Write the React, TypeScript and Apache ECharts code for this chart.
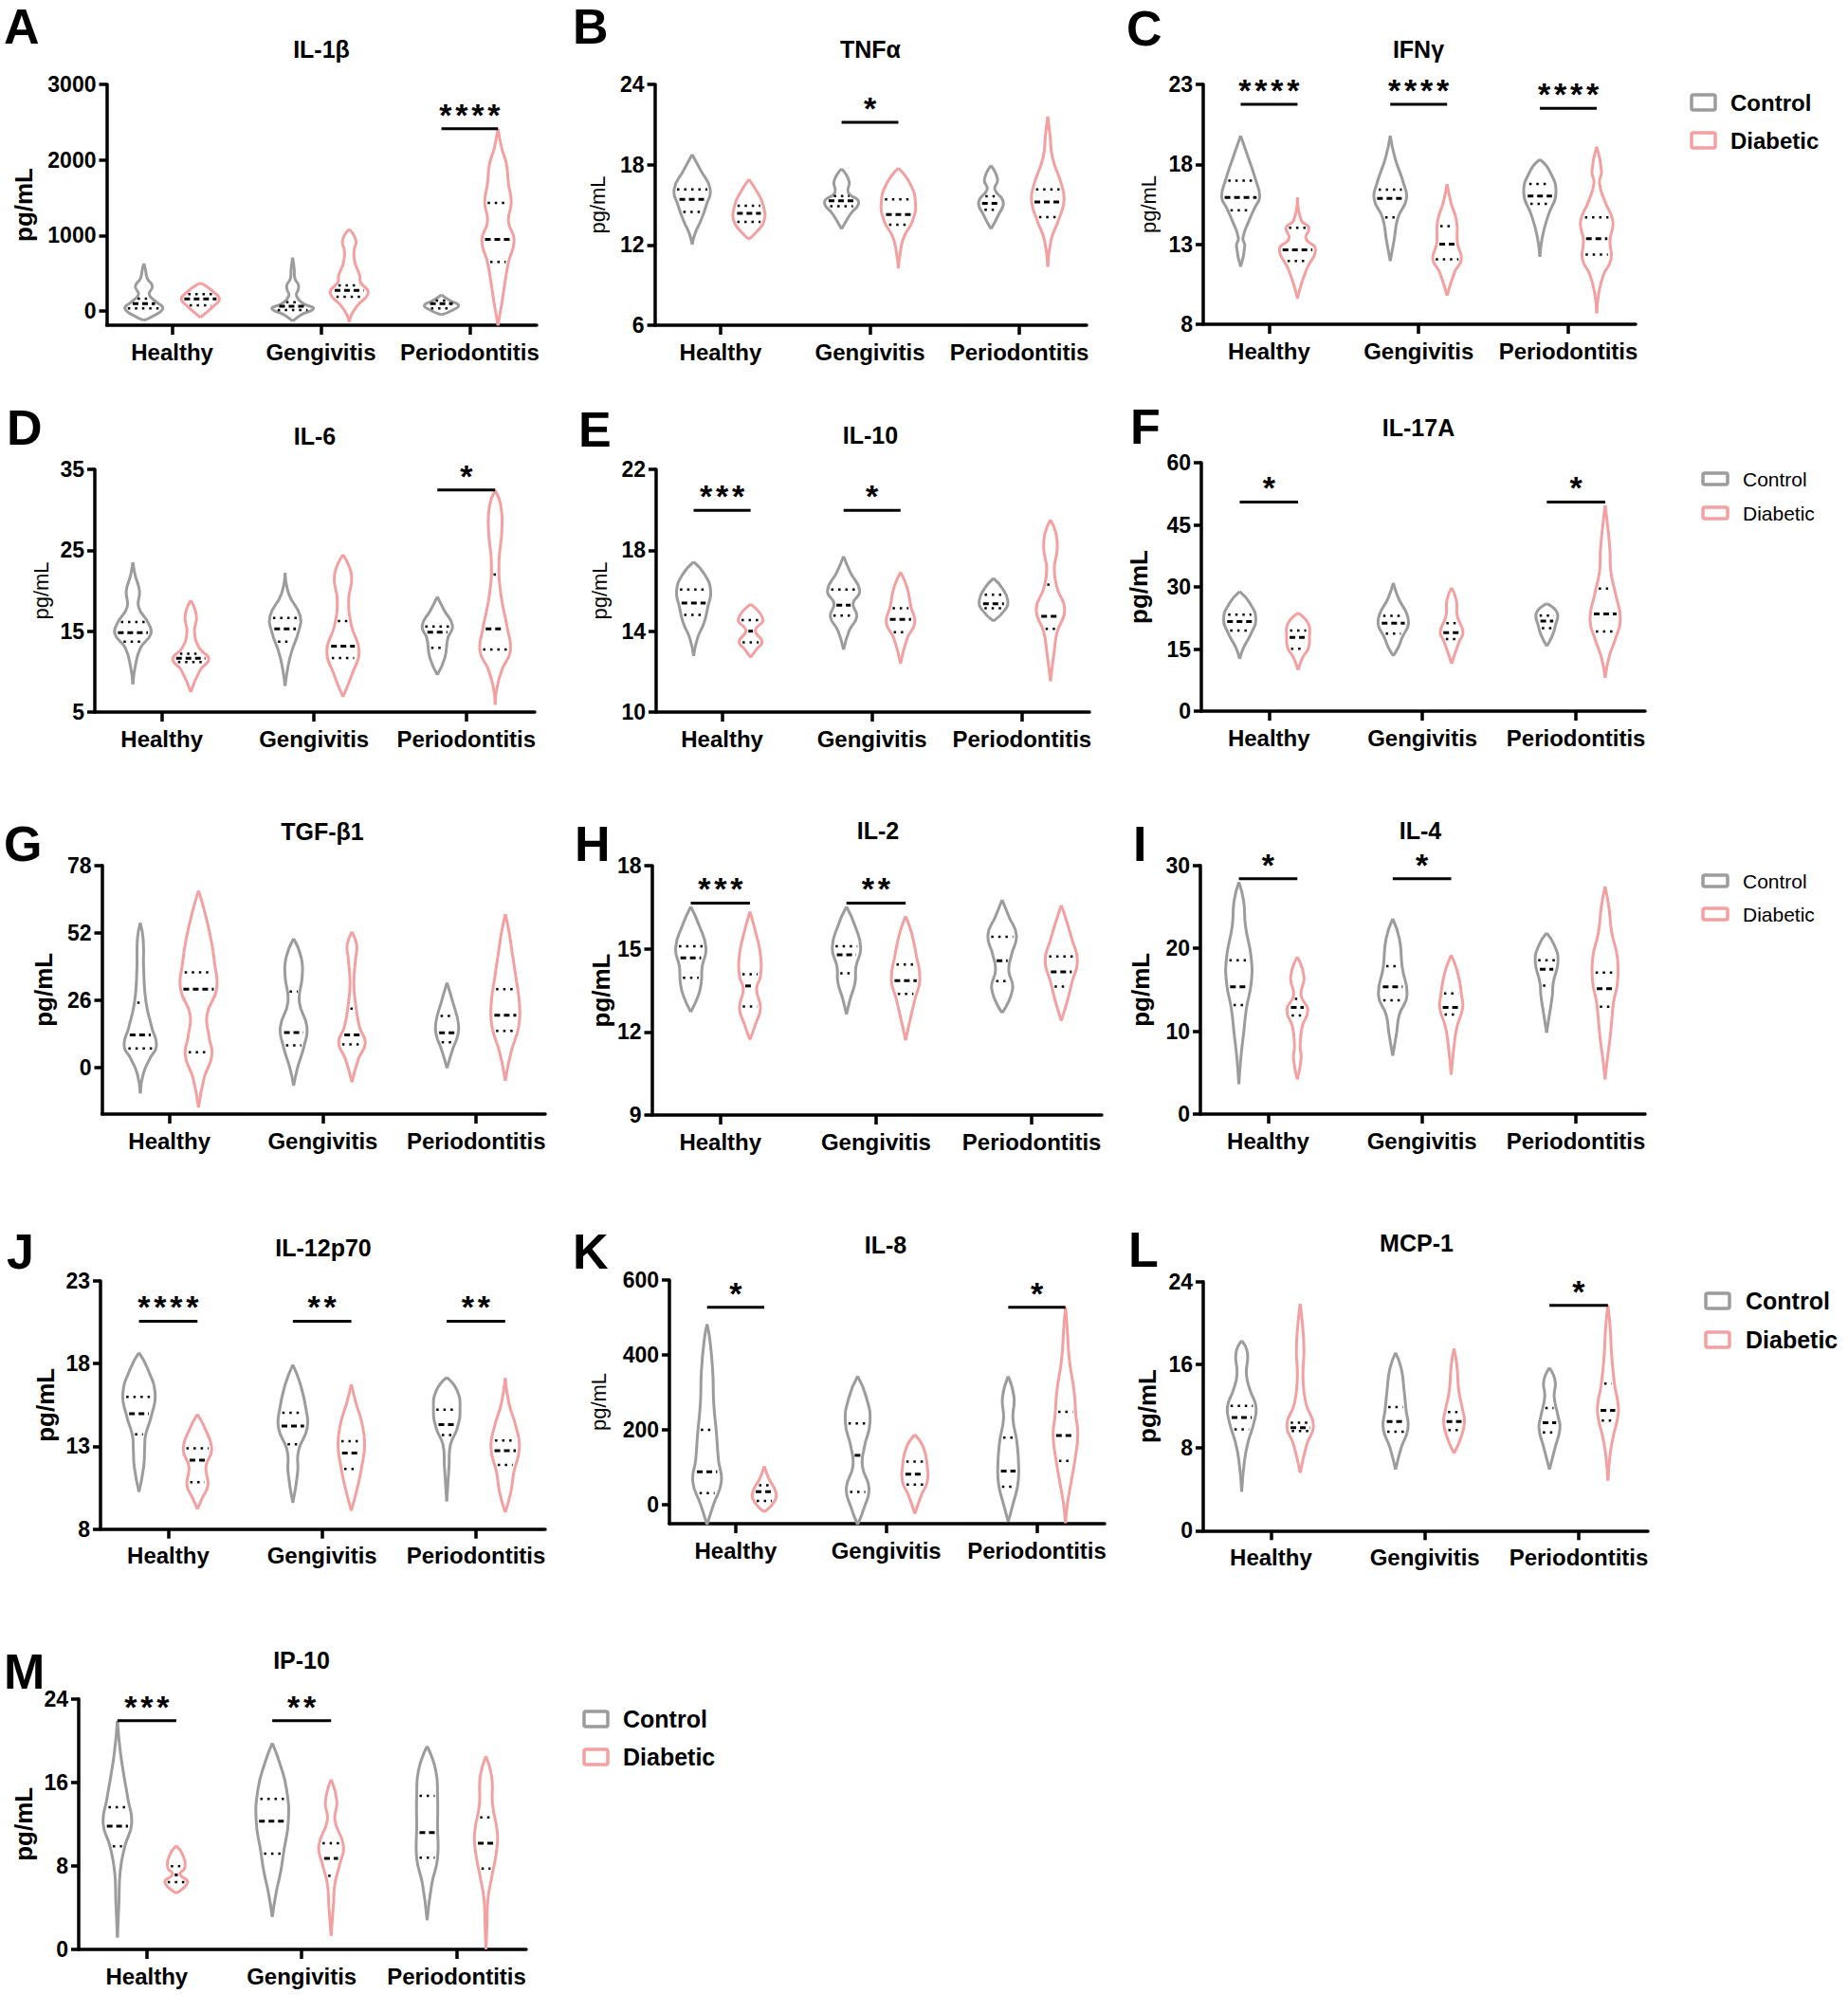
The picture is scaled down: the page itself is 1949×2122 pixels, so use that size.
import React, { useEffect, useRef } from "react";
import * as echarts from "echarts";

// ---------- shared categories & style constants ----------
const CATEGORIES = ["Healthy", "Gengivitis", "Periodontitis"];
const GROUPS = ["Control", "Diabetic"];
const GREY = "#9c9c9c";
const PINK = "#f5a0a0";
const FONT = '"Liberation Sans", Arial, Helvetica, sans-serif';
const HW = 20; // px half-width of a violin at relative density 1
const OFFSET = 0.19; // group offset within a category
const X_MIN = -0.44;
const X_MAX = 2.45;
const AXIS_W = 3.5;

// Violin order in every panel: Healthy-Control, Healthy-Diabetic, Gengivitis-Control,
// Gengivitis-Diabetic, Periodontitis-Control, Periodontitis-Diabetic
// STATS = [q1, median, q3]; SHAPES = [[value, relative half-width], ...] low -> high
// SIG = [category index, bar value, number of stars]

// A  IL-1β
const IL1B_TICKS = [0, 1000, 2000, 3000];
const IL1B_STATS = [[35, 97, 165], [76, 159, 222], [13, 63, 117], [190, 273, 340], [34, 97, 138], [650, 948, 1431]];
const IL1B_SHAPES = [
  [[-122, 0], [-71, 0.45], [34, 1.0], [130, 0.6], [222, 0.28], [327, 0.45], [432, 0.18], [550, 0.08], [629, 0]],
  [[-84, 0], [-8, 0.37], [55, 0.65], [159, 1.0], [250, 0.7], [330, 0.3], [369, 0]],
  [[-134, 0], [-50, 0.45], [34, 1.1], [100, 0.55], [201, 0.2], [290, 0.3], [348, 0.3], [430, 0.12], [558, 0.08], [705, 0]],
  [[-147, 0], [-50, 0.12], [76, 0.45], [243, 1.0], [380, 0.6], [474, 0.55], [642, 0.3], [789, 0.25], [936, 0.35], [1083, 0]],
  [[-50, 0], [13, 0.6], [76, 0.9], [138, 0.45], [214, 0]],
  [[-190, 0], [-71, 0.08], [97, 0.2], [348, 0.35], [642, 0.55], [936, 0.85], [1187, 0.55], [1439, 0.7], [1691, 0.55], [1943, 0.45], [2153, 0.2], [2413, 0]],
];
const IL1B_SIG = [[2, 2414, 4]];

// B  TNFα
const TNF_TICKS = [6, 12, 18, 24];
const TNF_STATS = [[14.46, 15.4, 16.16], [13.73, 14.36, 14.93], [14.9, 15.3, 15.65], [13.51, 14.27, 15.4], [14.62, 15.1, 15.64], [14.08, 15.21, 16.16]];
const TNF_SHAPES = [
  [[12.02, 0], [12.85, 0.15], [13.8, 0.45], [14.98, 0.75], [16.16, 0.95], [17.58, 0.45], [18.76, 0]],
  [[12.43, 0], [12.97, 0.4], [13.8, 0.8], [14.98, 0.75], [15.92, 0.45], [16.91, 0]],
  [[13.2, 0], [14.27, 0.45], [15.21, 0.9], [15.92, 0.35], [16.75, 0.4], [17.69, 0]],
  [[10.25, 0], [11.43, 0.1], [12.62, 0.3], [13.8, 0.75], [15.21, 0.9], [16.63, 0.6], [17.74, 0]],
  [[13.2, 0], [14.27, 0.4], [15.21, 0.65], [16.16, 0.2], [16.87, 0.35], [17.93, 0]],
  [[10.37, 0], [12.38, 0.18], [13.8, 0.55], [15.21, 0.85], [16.4, 0.75], [18.52, 0.25], [20.2, 0.12], [21.6, 0]],
];
const TNF_SIG = [[1, 21.16, 1]];

// C  IFNγ
const IFNG_TICKS = [8, 13, 18, 23];
const IFNG_STATS = [[15.13, 15.93, 16.98], [11.96, 12.66, 14.04], [14.68, 15.87, 16.42], [12.06, 13.01, 14.14], [15.53, 16.02, 16.78], [12.36, 13.35, 14.68]];
const IFNG_SHAPES = [
  [[11.6, 0], [12.9, 0.22], [13.4, 0.12], [14.5, 0.45], [15.3, 0.75], [15.95, 1.0], [17.0, 0.8], [18.6, 0.35], [19.79, 0]],
  [[9.6, 0], [10.5, 0.2], [11.5, 0.5], [12.7, 0.95], [13.35, 0.45], [14.05, 0.6], [14.5, 0.2], [15.95, 0]],
  [[11.96, 0], [13.25, 0.2], [14.64, 0.4], [15.83, 0.85], [16.82, 0.7], [18.4, 0.25], [19.79, 0]],
  [[9.78, 0], [11.27, 0.4], [12.06, 0.75], [13.05, 0.55], [14.44, 0.5], [15.63, 0.2], [16.78, 0]],
  [[12.22, 0], [13.55, 0.15], [14.84, 0.45], [16.22, 0.85], [17.61, 0.5], [18.3, 0]],
  [[8.69, 0], [9.88, 0.1], [11.07, 0.35], [12.06, 0.75], [13.25, 0.7], [14.44, 0.85], [15.63, 0.45], [16.8, 0.15], [17.6, 0.25], [19.1, 0]],
];
const IFNG_SIG = [[0, 21.76, 4], [1, 21.76, 4], [2, 21.5, 4]];

// D  IL-6
const IL6_TICKS = [5, 15, 25, 35];
const IL6_STATS = [[13.71, 14.8, 16.13], [11.17, 11.64, 12.2], [13.71, 15.27, 16.64], [11.68, 13.13, 16.25], [12.93, 14.88, 15.59], [12.73, 15.27, 22]];
const IL6_SHAPES = [
  [[8.44, 0], [10.59, 0.12], [12.93, 0.4], [14.69, 0.95], [16.05, 0.8], [18.0, 0.3], [19.96, 0.35], [21.91, 0.12], [23.48, 0]],
  [[7.46, 0], [10.2, 0.5], [11.56, 0.95], [12.93, 0.45], [14.88, 0.2], [16.84, 0.3], [18.79, 0]],
  [[8.24, 0], [10.59, 0.15], [12.54, 0.35], [14.88, 0.7], [16.84, 0.8], [19.57, 0.2], [22.19, 0]],
  [[6.88, 0], [9.81, 0.5], [12.54, 0.85], [15.66, 0.45], [18.79, 0.3], [21.91, 0.45], [24.45, 0]],
  [[9.61, 0], [11.76, 0.4], [14.1, 0.55], [15.66, 0.8], [17.62, 0.35], [19.26, 0]],
  [[5.9, 0], [7.85, 0.08], [10.2, 0.35], [12.54, 0.8], [15.27, 0.65], [19.57, 0.3], [23.48, 0.2], [27.38, 0.35], [30.5, 0.3], [32.38, 0]],
];
const IL6_SIG = [[2, 32.46, 1]];

// E  IL-10
const IL10_TICKS = [10, 14, 18, 22];
const IL10_STATS = [[14.81, 15.39, 16.06], [13.45, 14.0, 14.55], [14.77, 15.28, 16.06], [13.95, 14.58, 15.13], [15.13, 15.36, 15.8], [14.11, 14.73, 16.3]];
const IL10_SHAPES = [
  [[12.78, 0], [13.64, 0.2], [14.42, 0.55], [15.2, 0.75], [15.98, 0.9], [16.77, 0.6], [17.42, 0]],
  [[12.7, 0], [13.09, 0.3], [13.48, 0.6], [14.03, 0.25], [14.58, 0.65], [15.33, 0]],
  [[13.09, 0], [14.03, 0.3], [14.73, 0.7], [15.36, 0.5], [15.98, 0.85], [16.92, 0.35], [17.7, 0]],
  [[12.39, 0], [13.64, 0.35], [14.42, 0.75], [15.2, 0.55], [16.14, 0.35], [16.92, 0]],
  [[14.5, 0], [15.05, 0.6], [15.52, 0.75], [16.14, 0.45], [16.61, 0]],
  [[11.53, 0], [13.02, 0.2], [13.95, 0.35], [15.05, 0.75], [16.14, 0.35], [17.08, 0.2], [18.02, 0.35], [18.8, 0.3], [19.5, 0]],
];
const IL10_SIG = [[0, 19.97, 3], [1, 19.97, 1]];

// F  IL-17A
const IL17_TICKS = [0, 15, 30, 45, 60];
const IL17_STATS = [[19.49, 21.63, 23.31], [15.06, 17.81, 19.49], [18.73, 21.25, 23.0], [17.43, 18.96, 21.25], [20.03, 21.78, 23.08], [19.26, 23.47, 29.58]];
const IL17_SHAPES = [
  [[12.61, 0], [15.29, 0.2], [18.73, 0.6], [22.17, 0.85], [25.99, 0.55], [28.9, 0]],
  [[9.94, 0], [13.0, 0.25], [15.29, 0.55], [17.96, 0.6], [21.02, 0.55], [23.7, 0]],
  [[13.38, 0], [15.29, 0.25], [17.58, 0.45], [21.78, 0.8], [27.52, 0.25], [30.96, 0]],
  [[11.47, 0], [16.82, 0.4], [19.11, 0.6], [22.93, 0.3], [26.75, 0.25], [29.8, 0]],
  [[15.67, 0], [18.35, 0.3], [20.64, 0.45], [23.7, 0.55], [25.99, 0]],
  [[8.03, 0], [12.99, 0.2], [17.58, 0.55], [22.17, 0.8], [28.28, 0.55], [33.63, 0.3], [38.98, 0.25], [45.1, 0.12], [49.68, 0]],
];
const IL17_SIG = [[0, 50.5, 1], [2, 50.5, 1]];

// G  TGF-β1
const TGF_TICKS = [0, 26, 52, 78];
const TGF_STATS = [[7.3, 12.55, 25], [5.85, 30.2, 36.7], [8.5, 13.5, 29.3], [8.9, 12.55, 22.7], [9.75, 13.4, 19.9], [14.1, 20.2, 30.2]];
const TGF_SHAPES = [
  [[-10, 0], [-2.7, 0.15], [3.4, 0.5], [8.3, 0.85], [15.6, 0.6], [25.35, 0.3], [37.5, 0.18], [49.7, 0.15], [55.8, 0]],
  [[-15.5, 0], [-3.9, 0.3], [4.6, 0.7], [12, 0.55], [20.5, 0.45], [30.2, 0.95], [40, 0.85], [49.7, 0.65], [60.7, 0.3], [68.25, 0]],
  [[-7, 0], [-0.2, 0.2], [8.3, 0.55], [15.6, 0.7], [25.35, 0.3], [35.1, 0.45], [42.4, 0.4], [49.7, 0]],
  [[-5.7, 0], [3.4, 0.35], [9.5, 0.7], [15.6, 0.4], [24.1, 0.2], [32.7, 0.1], [42.4, 0.2], [47.3, 0.25], [52.4, 0]],
  [[-0.25, 0], [7.1, 0.3], [12, 0.55], [16.8, 0.6], [25.35, 0.3], [32.7, 0]],
  [[-5.1, 0], [5.85, 0.3], [15.6, 0.7], [24.1, 0.75], [35.1, 0.55], [44.9, 0.35], [52.2, 0.2], [59.2, 0]],
];
const TGF_SIG = [];

// H  IL-2
const IL2_TICKS = [9, 12, 15, 18];
const IL2_STATS = [[13.95, 14.67, 15.09], [12.92, 13.66, 14.08], [14.12, 14.78, 15.09], [13.37, 13.85, 14.43], [13.83, 14.57, 15.43], [13.64, 14.17, 14.72]];
const IL2_SHAPES = [
  [[12.72, 0], [13.32, 0.4], [13.77, 0.55], [14.35, 0.6], [15.03, 0.8], [15.83, 0.45], [16.52, 0]],
  [[11.72, 0], [12.29, 0.3], [12.86, 0.55], [13.55, 0.35], [14.0, 0.55], [14.8, 0.55], [15.6, 0.3], [16.34, 0]],
  [[12.63, 0], [13.2, 0.2], [13.77, 0.45], [14.35, 0.5], [15.03, 0.75], [15.83, 0.45], [16.52, 0]],
  [[11.7, 0], [12.63, 0.3], [13.2, 0.5], [13.89, 0.75], [14.8, 0.55], [15.6, 0.3], [16.17, 0]],
  [[12.69, 0], [13.55, 0.55], [14.23, 0.35], [14.8, 0.5], [15.49, 0.75], [16.17, 0.35], [16.77, 0]],
  [[12.4, 0], [13.2, 0.35], [13.77, 0.55], [14.57, 0.85], [15.37, 0.55], [16.06, 0.25], [16.57, 0]],
];
const IL2_SIG = [[0, 16.65, 3], [1, 16.65, 2]];

// I  IL-4
const IL4_TICKS = [0, 10, 20, 30];
const IL4_STATS = [[13.15, 15.36, 18.56], [11.89, 12.88, 13.9], [13.72, 15.36, 17.84], [12.0, 12.88, 14.56], [15.51, 17.46, 18.56], [12.96, 15.13, 17.08]];
const IL4_SHAPES = [
  [[3.62, 0], [6.67, 0.1], [9.72, 0.25], [12.77, 0.4], [15.82, 0.65], [18.87, 0.65], [22.68, 0.35], [25.73, 0.25], [28, 0]],
  [[4.19, 0], [6.67, 0.2], [8.2, 0.15], [10.48, 0.25], [12.58, 0.55], [14.29, 0.2], [16.58, 0.35], [18.95, 0]],
  [[7.05, 0], [9.72, 0.2], [12, 0.35], [14.29, 0.75], [17.73, 0.5], [21.16, 0.35], [23.56, 0]],
  [[4.77, 0], [8.2, 0.15], [10.48, 0.3], [12.77, 0.6], [14.29, 0.55], [16.96, 0.35], [19.17, 0]],
  [[9.8, 0], [12, 0.15], [14.29, 0.3], [15.82, 0.35], [18.49, 0.6], [20.4, 0.4], [21.84, 0]],
  [[4.19, 0], [6.67, 0.12], [8.96, 0.25], [11.24, 0.35], [13.53, 0.45], [15.82, 0.65], [18.87, 0.65], [21.92, 0.35], [24.97, 0.2], [27.45, 0]],
];
const IL4_SIG = [[0, 28.4, 1], [1, 28.4, 1]];

// J  IL-12p70
const IL12_TICKS = [8, 13, 18, 23];
const IL12_STATS = [[13.73, 14.97, 15.99], [10.83, 12.17, 12.89], [13.12, 14.23, 15.03], [11.63, 12.59, 13.31], [13.69, 14.32, 15.22], [11.88, 12.74, 13.35]];
const IL12_SHAPES = [
  [[10.25, 0], [11.78, 0.25], [12.93, 0.3], [13.69, 0.35], [14.84, 0.65], [16.18, 0.85], [17.71, 0.45], [18.66, 0]],
  [[9.2, 0], [9.87, 0.25], [10.64, 0.55], [11.78, 0.45], [12.83, 0.75], [14.08, 0.4], [14.94, 0]],
  [[9.59, 0], [11.4, 0.25], [12.74, 0.3], [14.08, 0.75], [15.22, 0.7], [16.75, 0.4], [17.94, 0]],
  [[9.11, 0], [10.64, 0.35], [11.78, 0.55], [13.12, 0.7], [14.46, 0.55], [15.6, 0.25], [16.75, 0]],
  [[9.68, 0], [11.78, 0.12], [13.12, 0.2], [14.08, 0.55], [15.22, 0.7], [16.37, 0.55], [17.17, 0]],
  [[9.01, 0], [10.25, 0.3], [11.4, 0.45], [12.93, 0.75], [14.27, 0.55], [15.6, 0.2], [17.13, 0]],
];
const IL12_SIG = [[0, 20.57, 4], [1, 20.57, 2], [2, 20.57, 2]];

// K  IL-8
const IL8_TICKS = [0, 200, 400, 600];
const IL8_STATS = [[31, 88, 200], [10, 35, 52], [34, 132, 217], [54, 82, 115], [48, 90, 179], [117, 185, 248]];
const IL8_SHAPES = [
  [[-53, 0], [2, 0.35], [61, 0.75], [120, 0.6], [188, 0.5], [272, 0.35], [356, 0.3], [440, 0.15], [482, 0]],
  [[-19, 0], [10, 0.55], [35, 0.6], [69, 0.25], [103, 0]],
  [[-53, 0], [-7, 0.35], [44, 0.6], [103, 0.25], [153, 0.35], [221, 0.65], [288, 0.45], [343, 0]],
  [[-24, 0], [27, 0.35], [61, 0.65], [103, 0.65], [153, 0.45], [187, 0]],
  [[-45, 0], [2, 0.25], [52, 0.5], [103, 0.55], [170, 0.45], [229, 0.25], [288, 0.3], [343, 0]],
  [[-49, 0], [2, 0.1], [61, 0.3], [120, 0.5], [187, 0.65], [238, 0.55], [305, 0.45], [389, 0.2], [465, 0.1], [527, 0]],
];
const IL8_SIG = [[0, 527, 1], [2, 527, 1]];

// L  MCP-1
const MCP1_TICKS = [0, 8, 16, 24];
const MCP1_STATS = [[9.75, 10.9, 12.03], [9.59, 9.93, 10.4], [9.53, 10.51, 11.91], [9.69, 10.51, 11.42], [9.47, 10.39, 11.82], [10.6, 11.6, 14.16]];
const MCP1_SHAPES = [
  [[3.75, 0], [6.79, 0.15], [8.62, 0.35], [10.45, 0.65], [11.97, 0.75], [13.5, 0.45], [15.02, 0.25], [17.15, 0.3], [18.3, 0]],
  [[5.57, 0], [8.31, 0.35], [10.14, 0.7], [12.27, 0.3], [14.71, 0.15], [17.45, 0.2], [19.89, 0.12], [21.87, 0]],
  [[5.88, 0], [8.01, 0.3], [9.84, 0.65], [11.66, 0.55], [13.5, 0.45], [15.62, 0.3], [17.15, 0]],
  [[7.46, 0], [8.92, 0.35], [10.45, 0.55], [11.66, 0.45], [13.5, 0.25], [15.93, 0.15], [17.54, 0]],
  [[5.88, 0], [8.01, 0.3], [9.84, 0.55], [11.06, 0.45], [12.88, 0.25], [14.41, 0.3], [15.68, 0]],
  [[4.81, 0], [7.4, 0.12], [9.23, 0.3], [10.75, 0.5], [11.97, 0.55], [14.1, 0.35], [16.84, 0.2], [19.58, 0.12], [21.72, 0]],
];
const MCP1_SIG = [[2, 21.7, 1]];

// M  IP-10
const IP10_TICKS = [0, 8, 16, 24];
const IP10_STATS = [[9.87, 11.8, 13.62], [6.45, 7.14, 7.96], [9.17, 12.29, 14.41], [7.05, 8.72, 10.17], [8.78, 11.2, 14.71], [7.75, 10.17, 12.65]];
const IP10_SHAPES = [
  [[1.15, 0], [4.48, 0.08], [7.51, 0.15], [9.93, 0.4], [12.05, 0.75], [14.47, 0.55], [16.58, 0.35], [19, 0.15], [21.88, 0]],
  [[5.39, 0], [6.45, 0.6], [7.2, 0.2], [7.81, 0.45], [9.02, 0.35], [9.93, 0]],
  [[3.12, 0], [5.39, 0.2], [7.51, 0.45], [9.32, 0.6], [12.35, 0.85], [15.37, 0.75], [17.8, 0.4], [19.76, 0]],
  [[1.3, 0], [4.18, 0.12], [6.3, 0.2], [8.11, 0.45], [9.93, 0.65], [12.35, 0.2], [14.16, 0.3], [16.28, 0]],
  [[2.81, 0], [6.3, 0.25], [8.72, 0.55], [11.74, 0.55], [14.77, 0.55], [17.19, 0.45], [19.46, 0]],
  [[0, 0], [2.36, 0.05], [4.78, 0.1], [6.9, 0.3], [9.32, 0.55], [11.14, 0.6], [13.86, 0.35], [16.58, 0.3], [18.49, 0]],
];
const IP10_SIG = [[0, 21.9, 3], [1, 21.9, 2]];

// ---------- panel layout (pixel boxes: left, top, right, bottom) ----------
const PANELS = [
  { letter: "A", title: "IL-1β", stats: IL1B_STATS, shapes: IL1B_SHAPES, sig: IL1B_SIG, ticks: IL1B_TICKS, yMin: -188, yMax: 3000, box: [112.5, 89, 566, 343], titlePos: [339, 52], letterPos: [4, 28], nameX: 25, nameBold: true },
  { letter: "B", title: "TNFα", stats: TNF_STATS, shapes: TNF_SHAPES, sig: TNF_SIG, ticks: TNF_TICKS, yMin: 6, yMax: 24, box: [690.6, 89, 1146, 343], titlePos: [918, 52], letterPos: [604, 28], nameX: 630, nameBold: false },
  { letter: "C", title: "IFNγ", stats: IFNG_STATS, shapes: IFNG_SHAPES, sig: IFNG_SIG, ticks: IFNG_TICKS, yMin: 8, yMax: 23, box: [1269, 89, 1725, 342], titlePos: [1496, 52], letterPos: [1188, 30], nameX: 1211, nameBold: false },
  { letter: "D", title: "IL-6", stats: IL6_STATS, shapes: IL6_SHAPES, sig: IL6_SIG, ticks: IL6_TICKS, yMin: 5, yMax: 35, box: [100, 495, 564, 751], titlePos: [332, 460], letterPos: [7, 451], nameX: 43.5, nameBold: false },
  { letter: "E", title: "IL-10", stats: IL10_STATS, shapes: IL10_SHAPES, sig: IL10_SIG, ticks: IL10_TICKS, yMin: 10, yMax: 22, box: [692, 495, 1149, 751], titlePos: [918, 459], letterPos: [610, 453], nameX: 632, nameBold: false },
  { letter: "F", title: "IL-17A", stats: IL17_STATS, shapes: IL17_SHAPES, sig: IL17_SIG, ticks: IL17_TICKS, yMin: 0, yMax: 60, box: [1267, 488, 1735, 750], titlePos: [1496, 451], letterPos: [1192, 450], nameX: 1201, nameBold: true },
  { letter: "G", title: "TGF-β1", stats: TGF_STATS, shapes: TGF_SHAPES, sig: TGF_SIG, ticks: TGF_TICKS, yMin: -18, yMax: 78, box: [107.5, 912.7, 575, 1175], titlePos: [340, 877], letterPos: [4, 890], nameX: 46, nameBold: true },
  { letter: "H", title: "IL-2", stats: IL2_STATS, shapes: IL2_SHAPES, sig: IL2_SIG, ticks: IL2_TICKS, yMin: 9, yMax: 18, box: [687.5, 913, 1162, 1176], titlePos: [926, 876], letterPos: [606, 890], nameX: 634, nameBold: true },
  { letter: "I", title: "IL-4", stats: IL4_STATS, shapes: IL4_SHAPES, sig: IL4_SIG, ticks: IL4_TICKS, yMin: 0, yMax: 30, box: [1266, 912.7, 1735, 1175], titlePos: [1498, 876], letterPos: [1195, 890], nameX: 1203, nameBold: true },
  { letter: "J", title: "IL-12p70", stats: IL12_STATS, shapes: IL12_SHAPES, sig: IL12_SIG, ticks: IL12_TICKS, yMin: 8, yMax: 23, box: [106, 1351, 575, 1612.7], titlePos: [341, 1316], letterPos: [7, 1320], nameX: 48, nameBold: true },
  { letter: "K", title: "IL-8", stats: IL8_STATS, shapes: IL8_SHAPES, sig: IL8_SIG, ticks: IL8_TICKS, yMin: -50.5, yMax: 600, box: [706, 1350, 1165, 1607], titlePos: [934, 1313], letterPos: [604, 1320], nameX: 631, nameBold: false },
  { letter: "L", title: "MCP-1", stats: MCP1_STATS, shapes: MCP1_SHAPES, sig: MCP1_SIG, ticks: MCP1_TICKS, yMin: 0, yMax: 24, box: [1269, 1351.7, 1738, 1614.3], titlePos: [1494, 1311], letterPos: [1190, 1318], nameX: 1210, nameBold: true },
  { letter: "M", title: "IP-10", stats: IP10_STATS, shapes: IP10_SHAPES, sig: IP10_SIG, ticks: IP10_TICKS, yMin: 0, yMax: 24, box: [83, 1791.7, 555, 2056], titlePos: [318, 1751], letterPos: [4, 1763], nameX: 25, nameBold: true },
];

const LEGENDS = [
  { boxX: 1784, boxW: 25, boxH: 16, ys: [108, 148], textX: 1825, size: 24, bold: true },
  { boxX: 1796, boxW: 26, boxH: 12, ys: [505, 541], textX: 1838, size: 21, bold: false },
  { boxX: 1796, boxW: 26, boxH: 12, ys: [929, 964], textX: 1838, size: 21, bold: false },
  { boxX: 1799, boxW: 25, boxH: 16, ys: [1372, 1413], textX: 1841, size: 25, bold: true },
  { boxX: 616, boxW: 25, boxH: 16, ys: [1813, 1853], textX: 657, size: 25, bold: true },
];

function widthAt(shape: number[][], v: number): number {
  for (let i = 0; i < shape.length - 1; i++) {
    const [v0, w0] = shape[i];
    const [v1, w1] = shape[i + 1];
    if (v >= v0 && v <= v1) {
      const t = v1 === v0 ? 0 : (v - v0) / (v1 - v0);
      return w0 + (w1 - w0) * t;
    }
  }
  return 0;
}

function groupX(k: number): number {
  const g = Math.floor(k / 2);
  return g + (k % 2 === 1 ? OFFSET : -OFFSET);
}

function violinRenderer(p: any) {
  return (params: any, api: any) => {
    const k = params.dataIndex;
    const shape: number[][] = p.shapes[k];
    const st: number[] = p.stats[k];
    const xc = groupX(k);
    const color = k % 2 === 1 ? PINK : GREY;
    const cx = api.coord([xc, shape[0][0]])[0];
    const right = shape.map(([v, w]) => [cx + w * HW, api.coord([xc, v])[1]]);
    const left = shape.map(([v, w]) => [cx - w * HW, api.coord([xc, v])[1]]);
    const children: any[] = [
      { type: "polyline", shape: { points: right, smooth: 0.5 }, style: { stroke: color, lineWidth: 3, fill: null } },
      { type: "polyline", shape: { points: left, smooth: 0.5 }, style: { stroke: color, lineWidth: 3, fill: null } },
    ];
    st.forEach((q, j) => {
      const hw = widthAt(shape, q) * HW - 3;
      if (hw <= 1) return;
      const y = api.coord([xc, q])[1];
      children.push({
        type: "line",
        shape: { x1: cx - hw, y1: y, x2: cx + hw, y2: y },
        style: j === 1
          ? { stroke: "#000", lineWidth: 3, lineDash: [6, 4] }
          : { stroke: "#000", lineWidth: 2.5, lineDash: [2.5, 5] },
      });
    });
    return { type: "group", children };
  };
}

function sigRenderer(params: any, api: any) {
  const g = api.value(0);
  const yv = api.value(1);
  const n = api.value(2);
  const p0 = api.coord([g - OFFSET, yv]);
  const p1 = api.coord([g + OFFSET, yv]);
  const cx = (p0[0] + p1[0]) / 2;
  const children: any[] = [
    { type: "line", shape: { x1: p0[0], y1: p0[1], x2: p1[0], y2: p1[1] }, style: { stroke: "#000", lineWidth: 3 } },
  ];
  for (let i = 0; i < n; i++) {
    children.push({
      type: "text",
      x: cx + (i - (n - 1) / 2) * 17,
      y: p0[1] - 15,
      style: {
        text: "*",
        fill: "#000",
        font: `bold 34px ${FONT}`,
        align: "center",
        verticalAlign: "middle",
        textAlign: "center",
        textVerticalAlign: "middle",
      },
    });
  }
  return { type: "group", children };
}

function textEl(x: number, y: number, text: string, font: string, align = "center", rotation = 0) {
  return {
    type: "text",
    x,
    y,
    rotation,
    style: { text, font, fill: "#000", textAlign: align, textVerticalAlign: "middle", align, verticalAlign: "middle" },
  };
}

function buildOption() {
  const grid: any[] = [];
  const xAxis: any[] = [];
  const yAxis: any[] = [];
  const series: any[] = [];
  const graphic: any[] = [];
  const axisLineStyle = { color: "#000", width: AXIS_W };

  PANELS.forEach((p, i) => {
    const [l, t, r, b] = p.box;
    grid.push({ left: l, top: t, width: r - l, height: b - t, containLabel: false });
    xAxis.push({
      type: "value",
      gridIndex: i,
      min: X_MIN,
      max: X_MAX,
      axisLine: { show: true, onZero: false, lineStyle: axisLineStyle },
      axisTick: { show: true, customValues: [0, 1, 2], length: 10, lineStyle: axisLineStyle },
      axisLabel: {
        show: true,
        customValues: [0, 1, 2],
        formatter: (v: number) => CATEGORIES[Math.round(v)] ?? "",
        color: "#000",
        fontSize: 24,
        fontWeight: "bold",
        fontFamily: FONT,
        margin: 16,
      },
      splitLine: { show: false },
    });
    yAxis.push({
      type: "value",
      gridIndex: i,
      min: p.yMin,
      max: p.yMax,
      axisLine: { show: true, onZero: false, lineStyle: axisLineStyle },
      axisTick: { show: true, customValues: p.ticks, length: 8, lineStyle: axisLineStyle },
      axisLabel: {
        show: true,
        customValues: p.ticks,
        formatter: (v: number) => String(v),
        color: "#000",
        fontSize: 23,
        fontWeight: "bold",
        fontFamily: FONT,
        margin: 11,
      },
      splitLine: { show: false },
    });
    series.push({
      type: "custom",
      name: p.title,
      xAxisIndex: i,
      yAxisIndex: i,
      clip: false,
      data: p.stats.map((s: number[], k: number) => [groupX(k), s[1]]),
      renderItem: violinRenderer(p),
      z: 3,
    });
    if (p.sig.length) {
      series.push({
        type: "custom",
        name: p.title + " significance",
        xAxisIndex: i,
        yAxisIndex: i,
        clip: false,
        data: p.sig,
        renderItem: sigRenderer,
        z: 4,
      });
    }
    graphic.push(textEl(p.letterPos[0], p.letterPos[1], p.letter, `bold 52px ${FONT}`, "left"));
    graphic.push(textEl(p.titlePos[0], p.titlePos[1], p.title, `bold 25px ${FONT}`, "center"));
    graphic.push(
      textEl(
        p.nameX,
        (t + b) / 2,
        "pg/mL",
        p.nameBold ? `bold 26px ${FONT}` : `22px ${FONT}`,
        "center",
        Math.PI / 2
      )
    );
  });

  LEGENDS.forEach((lg) => {
    GROUPS.forEach((name, gi) => {
      const y = lg.ys[gi];
      graphic.push({
        type: "rect",
        shape: { x: lg.boxX, y: y - lg.boxH / 2, width: lg.boxW, height: lg.boxH, r: 2 },
        style: { fill: "#fff", stroke: gi === 0 ? GREY : PINK, lineWidth: 3.5 },
      });
      graphic.push(textEl(lg.textX, y, name, `${lg.bold ? "bold " : ""}${lg.size}px ${FONT}`, "left"));
    });
  });

  return {
    animation: false,
    backgroundColor: "#ffffff",
    grid,
    xAxis,
    yAxis,
    series,
    graphic: { elements: graphic },
  };
}

export default function App() {
  const ref = useRef<HTMLDivElement>(null);
  useEffect(() => {
    if (!ref.current) return;
    const chart = echarts.init(ref.current, null, { renderer: "svg" });
    chart.setOption(buildOption() as any);
    return () => chart.dispose();
  }, []);
  return (
    <div
      ref={ref}
      style={{ position: "absolute", left: 0, top: 0, width: 1949, height: 2122, background: "#fff" }}
    />
  );
}
